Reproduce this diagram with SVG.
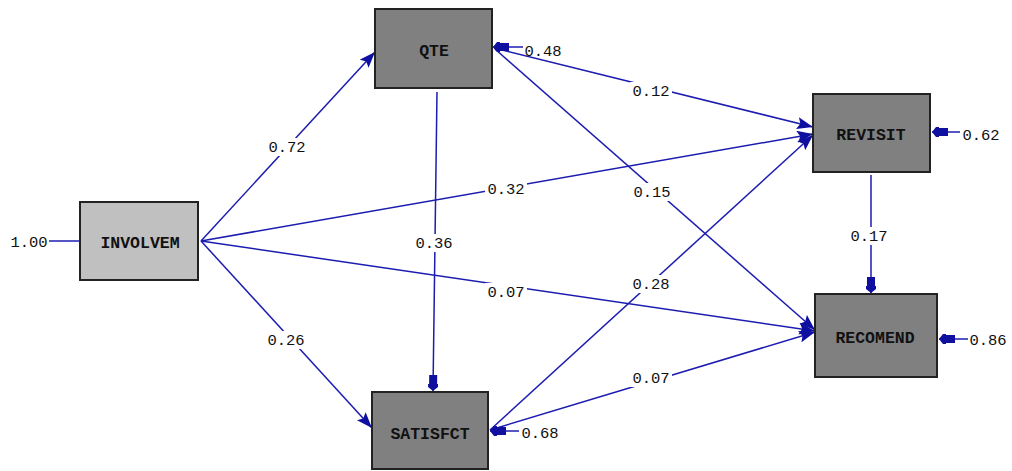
<svg xmlns="http://www.w3.org/2000/svg" width="1012" height="471" viewBox="0 0 1012 471">
<defs>
<style>
.box{stroke:#222;stroke-width:2}
.obs{fill:#808080}
.lat{fill:#c0c0c0}
.ln{stroke:#1c1cb0;stroke-width:1.5;fill:none}
.nm{font-family:"Liberation Mono","DejaVu Sans Mono",monospace;font-size:16.5px;font-weight:bold;fill:#111;text-anchor:middle}
.lb{font-family:"Liberation Mono","DejaVu Sans Mono",monospace;font-size:15.5px;fill:#111;text-anchor:middle}
.bg{fill:#fff}
</style>
<marker id="ah" viewBox="0 0 16 12" refX="16" refY="6" markerWidth="16" markerHeight="12" markerUnits="userSpaceOnUse" orient="auto">
<path d="M0,0 L16,6 L0,12 L3,6 Z" fill="#0f0fa0"/>
</marker>
<marker id="eh" viewBox="0 0 16 10" refX="16" refY="5" markerWidth="16" markerHeight="10" markerUnits="userSpaceOnUse" orient="auto">
<path d="M0,1 L9,1 L9,0 L12,0 L16,5 L12,10 L9,10 L9,9 L0,9 Z" fill="#0f0fa0"/>
</marker>
</defs>
<rect width="1012" height="471" fill="#fff"/>
<g id="connectors">
<line class="ln" x1="49" y1="241" x2="80" y2="241"/>
<line class="ln" x1="201" y1="241" x2="375" y2="52" marker-end="url(#ah)"/>
<line class="ln" x1="201" y1="241" x2="372" y2="428" marker-end="url(#ah)"/>
<line class="ln" x1="201" y1="241" x2="813" y2="134" marker-end="url(#ah)"/>
<line class="ln" x1="201" y1="241" x2="815" y2="331" marker-end="url(#ah)"/>
<line class="ln" x1="437" y1="92" x2="433" y2="391" marker-end="url(#eh)"/>
<line class="ln" x1="494" y1="48" x2="813" y2="127" marker-end="url(#ah)"/>
<line class="ln" x1="495" y1="49" x2="815" y2="330" marker-end="url(#ah)"/>
<line class="ln" x1="490" y1="430" x2="813" y2="135" marker-end="url(#ah)"/>
<line class="ln" x1="490" y1="430" x2="815" y2="332" marker-end="url(#ah)"/>
<line class="ln" x1="871" y1="175" x2="871" y2="293" marker-end="url(#eh)"/>
<line class="ln" x1="523" y1="47" x2="493" y2="47" marker-end="url(#eh)"/>
<line class="ln" x1="960" y1="132" x2="932" y2="132" marker-end="url(#eh)"/>
<line class="ln" x1="968" y1="339" x2="939" y2="339" marker-end="url(#eh)"/>
<line class="ln" x1="519" y1="431" x2="490" y2="431" marker-end="url(#eh)"/>
</g>
<g id="labels">
<rect class="bg" x="266" y="138" width="42" height="18"/><text class="lb" x="287" y="152">0.72</text>
<rect class="bg" x="265" y="331" width="42" height="18"/><text class="lb" x="286" y="345">0.26</text>
<rect class="bg" x="485" y="180" width="42" height="18"/><text class="lb" x="506" y="194">0.32</text>
<rect class="bg" x="485" y="283" width="42" height="18"/><text class="lb" x="506" y="297">0.07</text>
<rect class="bg" x="413" y="234" width="42" height="18"/><text class="lb" x="434" y="248">0.36</text>
<rect class="bg" x="630" y="82" width="42" height="18"/><text class="lb" x="651" y="96">0.12</text>
<rect class="bg" x="631" y="183" width="42" height="18"/><text class="lb" x="652" y="197">0.15</text>
<rect class="bg" x="630" y="275" width="42" height="18"/><text class="lb" x="651" y="289">0.28</text>
<rect class="bg" x="630" y="369" width="42" height="18"/><text class="lb" x="651" y="383">0.07</text>
<rect class="bg" x="848" y="227" width="42" height="18"/><text class="lb" x="869" y="241">0.17</text>
<text class="lb" x="29" y="247">1.00</text>
<text class="lb" x="543" y="56">0.48</text>
<text class="lb" x="981" y="140">0.62</text>
<text class="lb" x="988" y="345">0.86</text>
<text class="lb" x="540" y="438">0.68</text>
</g>
<g id="INVOLVEM"><rect class="box lat" x="80" y="202" width="118" height="78"/><text class="nm" x="140" y="248">INVOLVEM</text></g>
<g id="QTE"><rect class="box obs" x="375" y="9" width="117" height="79"/><text class="nm" x="434" y="56">QTE</text></g>
<g id="REVISIT"><rect class="box obs" x="813" y="94" width="117" height="78"/><text class="nm" x="871" y="140">REVISIT</text></g>
<g id="RECOMEND"><rect class="box obs" x="815" y="294" width="122" height="83"/><text class="nm" x="875" y="343">RECOMEND</text></g>
<g id="SATISFCT"><rect class="box obs" x="372" y="392" width="116" height="77"/><text class="nm" x="430" y="439">SATISFCT</text></g>
</svg>
